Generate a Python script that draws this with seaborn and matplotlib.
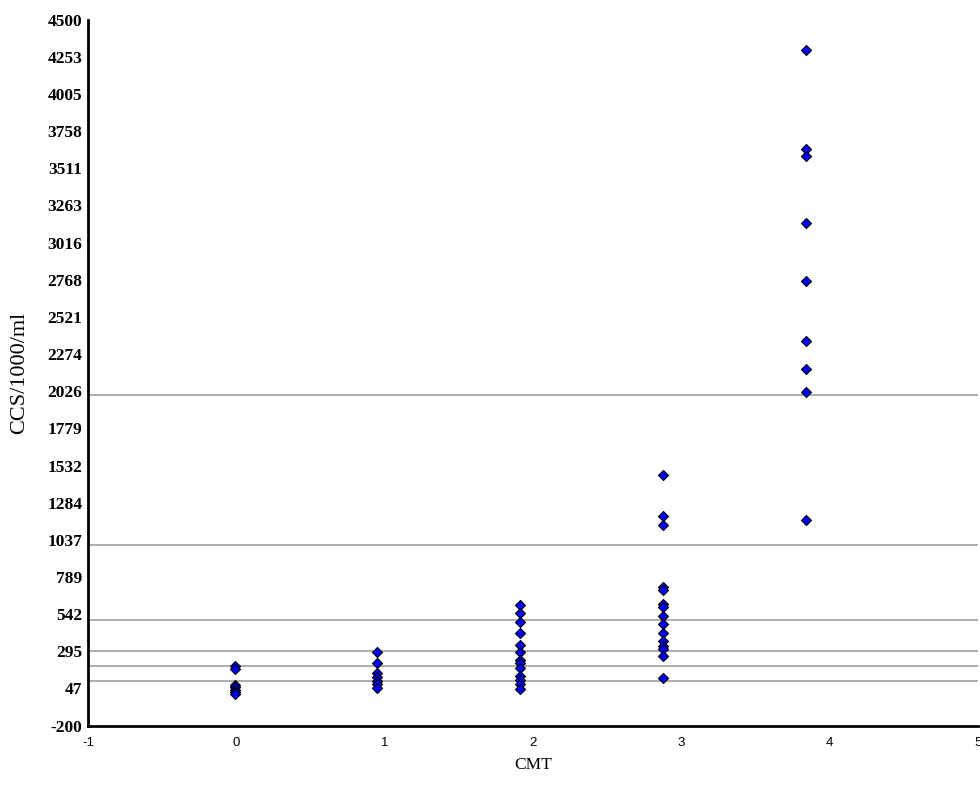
import matplotlib
import matplotlib.pyplot as plt
import numpy as np
import pandas as pd
import seaborn as sns

matplotlib.use("Agg")

# CMT score groups and where their points sit on the x axis
CMT_LEVELS = [0, 1, 2, 3, 4]
CMT_X = [-0.01, 0.95, 1.91, 2.88, 3.84]

# CCS/1000/ml values read per CMT group
CCS_CMT0 = [195, 180, 70, 55, 40, 25, 8]
CCS_CMT1 = [291, 214, 150, 125, 100, 75, 50]
CCS_CMT2 = [602, 547, 491, 414, 336, 291, 236, 214, 185, 130, 107, 74, 41]
CCS_CMT3 = [1468, 1195, 1133, 724, 702, 609, 591, 529, 474, 418, 362, 331, 311, 263, 118]
CCS_CMT4 = [4297, 3638, 3593, 3143, 2759, 2362, 2173, 2020, 1168]

# reference lines across the plot
THRESHOLDS = [100, 200, 300, 500, 1000, 2000]

Y_MIN, Y_MAX, Y_STEPS = -200, 4500, 20
X_TICKS = [-1, 0, 1, 2, 3, 4, 5]

sns.set_theme(style="white")
plt.rcParams["font.family"] = ["Liberation Serif", "DejaVu Serif"]


def build_frame() -> pd.DataFrame:
    groups = [CCS_CMT0, CCS_CMT1, CCS_CMT2, CCS_CMT3, CCS_CMT4]
    rows = []
    for level, xpos, values in zip(CMT_LEVELS, CMT_X, groups):
        for v in values:
            rows.append({"cmt": level, "x": xpos, "ccs": v})
    return pd.DataFrame(rows)


def main() -> None:
    df = build_frame()

    fig = plt.figure(figsize=(9.8, 7.87), dpi=100)
    ax = fig.add_axes([0.0898, 0.078, 0.908, 0.897])

    for t in THRESHOLDS:
        ax.axhline(t, color="#a0a0a0", lw=1.2, zorder=1)

    sns.scatterplot(
        data=df, x="x", y="ccs", ax=ax, marker="D", s=26,
        color="#0000ff", edgecolor="black", linewidth=0.8, zorder=3, legend=False,
    )

    ax.set_xlim(-1, 5)
    ax.set_ylim(Y_MIN, Y_MAX)
    yticks = np.linspace(Y_MIN, Y_MAX, Y_STEPS)
    ax.set_yticks(yticks)
    ax.set_yticklabels([f"{v:.0f}" for v in yticks], fontweight="bold", fontsize=12.5)
    ax.set_xticks(X_TICKS)
    ax.set_xticklabels([str(v) for v in X_TICKS], family=["Liberation Sans"], fontsize=9.5)

    ax.tick_params(axis="both", direction="in", length=4, width=1.5, colors="black")
    ax.tick_params(axis="y", pad=4)
    ax.tick_params(axis="x", pad=8)

    for side in ["top", "right"]:
        ax.spines[side].set_visible(False)
    for side in ["left", "bottom"]:
        ax.spines[side].set_linewidth(2)
        ax.spines[side].set_color("black")

    ax.set_xlabel("CMT", fontsize=12.5, labelpad=6, color="black")
    ax.set_ylabel("CCS/1000/ml", fontsize=16, labelpad=13, color="black")
    ax.grid(False)

    fig.savefig("out.png", dpi=100)
    plt.close(fig)


if __name__ == "__main__":
    main()
